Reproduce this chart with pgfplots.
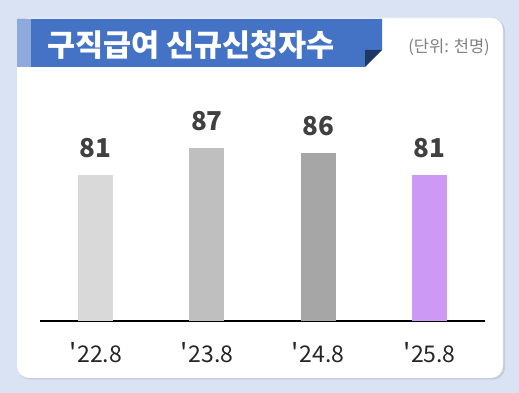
\documentclass[border=0pt]{standalone}
\usepackage{pgfplots}
\pgfplotsset{compat=1.18}
\usepackage{fontspec}
\setmainfont{Noto Sans CJK KR}
\definecolor{bg}{RGB}{218,227,243}
\definecolor{shadowc}{RGB}{196,203,217}
\definecolor{banner}{RGB}{68,114,196}
\definecolor{strip}{RGB}{142,170,219}
\definecolor{fold}{RGB}{32,56,100}
\definecolor{unitc}{RGB}{127,127,127}
\definecolor{valc}{RGB}{64,64,64}
\definecolor{tickc}{RGB}{38,38,38}
\definecolor{c1}{RGB}{217,217,217}
\definecolor{c2}{RGB}{191,191,191}
\definecolor{c3}{RGB}{166,166,166}
\definecolor{c4}{RGB}{204,153,245}
\newcommand{\ap}{{\fontsize{26}{26}\selectfont\textquotesingle}\kern0.8pt}
\begin{document}
\begin{tikzpicture}[x=1pt,y=1pt]
\useasboundingbox (0,0) rectangle (519,393);
\fill[bg] (0,0) rectangle (519,393);
\fill[shadowc, rounded corners=12pt] (18,13.5) rectangle (505,374);
\fill[white, rounded corners=12pt] (17,15) rectangle (503,375);
\fill[banner] (17,374) -- (382,374) -- (382,343) -- (365,326) -- (17,326) -- cycle;
\fill[strip] (17,326) rectangle (31,374);
\fill[fold] (365,343) -- (382,343) -- (365,326) -- cycle;
\node[anchor=west, inner sep=0pt, text=white, font=\fontsize{30.5}{33}\selectfont\bfseries] at (47,348) {구직급여 신규신청자수};
\node[anchor=east, inner sep=0pt, text=unitc, font=\fontsize{16.5}{19}\selectfont] at (490,346) {(단위: 천명)};
\begin{axis}[
  at={(40pt,72pt)}, anchor=south west,
  scale only axis, width=445pt, height=232pt,
  xmin=-0.5, xmax=3.5, ymin=49, ymax=100,
  axis x line*=bottom, axis y line=none,
  axis line style={-, draw=black, line width=1.3pt},
  xtick={0,1,2,3},
  xticklabels={\ap22.8,\ap23.8,\ap24.8,\ap25.8},
  major tick length=0pt,
  xticklabel style={anchor=base, inner sep=0pt, yshift=-42pt, text=tickc, font=\fontsize{23}{26}\selectfont},
  ybar, bar width=35pt,
  /pgf/number format/assume math mode=true,
  nodes near coords,
  every node near coord/.append style={font=\fontsize{26}{28}\selectfont\bfseries, text=valc, anchor=south, inner sep=0pt, yshift=17pt},
]
\addplot[fill=c1, draw=none, bar shift=0pt] coordinates {(0,81)};
\addplot[fill=c2, draw=none, bar shift=0pt] coordinates {(1,87)};
\addplot[fill=c3, draw=none, bar shift=0pt] coordinates {(2,86)};
\addplot[fill=c4, draw=none, bar shift=0pt] coordinates {(3,81)};
\end{axis}
\end{tikzpicture}
\end{document}
